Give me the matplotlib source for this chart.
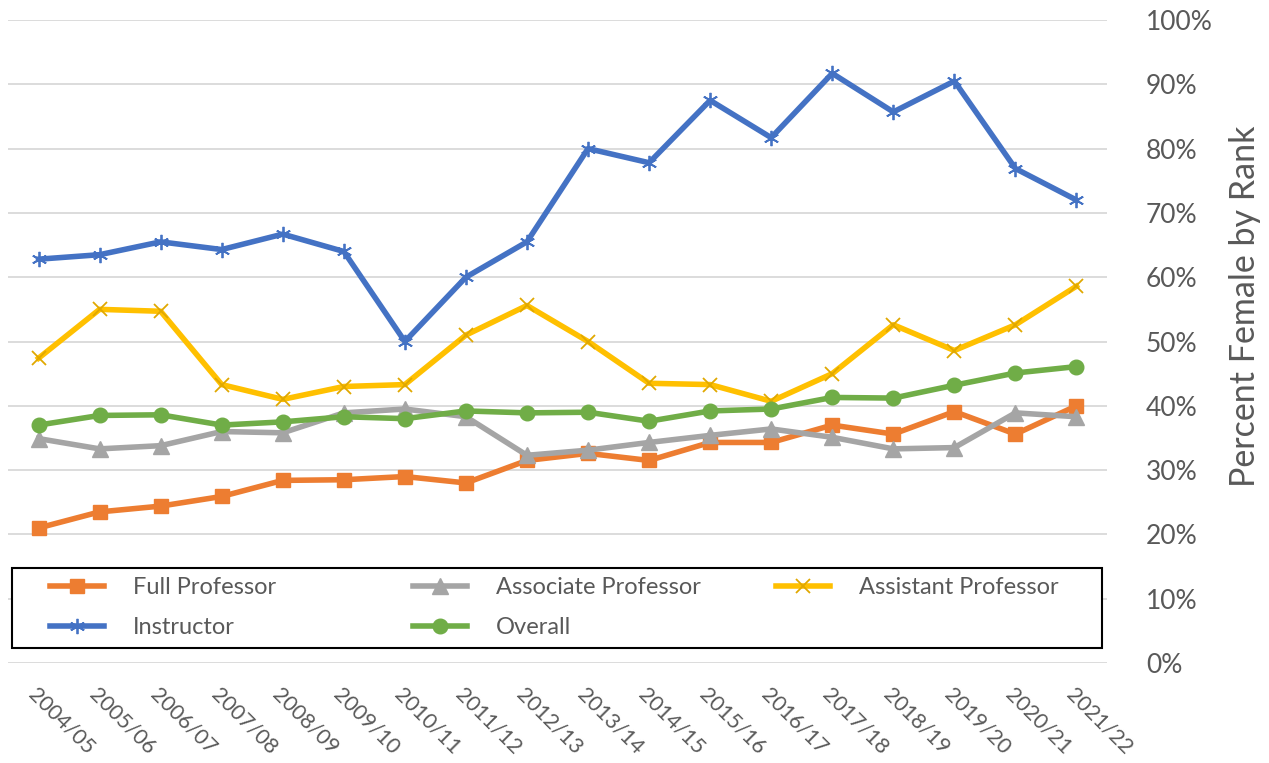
import matplotlib.pyplot as plt
from matplotlib.patches import Rectangle
from matplotlib.ticker import PercentFormatter

plt.rcParams["font.family"] = ["Lato", "DejaVu Sans"]

years = ["2004/05", "2005/06", "2006/07", "2007/08", "2008/09", "2009/10",
         "2010/11", "2011/12", "2012/13", "2013/14", "2014/15", "2015/16",
         "2016/17", "2017/18", "2018/19", "2019/20", "2020/21", "2021/22"]

full_prof = [21.0, 23.5, 24.4, 25.9, 28.4, 28.5, 29.0, 28.0, 31.5, 32.6, 31.5, 34.3,
             34.3, 37.0, 35.6, 39.1, 35.6, 40.0]
assoc_prof = [34.9, 33.3, 33.8, 36.0, 35.8, 38.9, 39.5, 38.3, 32.3, 33.1, 34.3, 35.4,
              36.4, 35.1, 33.3, 33.5, 38.9, 38.3]
asst_prof = [47.4, 55.0, 54.7, 43.3, 41.0, 43.0, 43.3, 51.0, 55.6, 50.0, 43.5, 43.3,
             40.7, 45.0, 52.6, 48.6, 52.6, 58.6]
instructor = [62.8, 63.5, 65.5, 64.3, 66.7, 64.0, 50.0, 60.0, 65.5, 80.0, 77.8, 87.5,
              81.7, 91.7, 85.7, 90.5, 76.9, 72.0]
overall = [37.0, 38.5, 38.6, 37.0, 37.5, 38.3, 38.0, 39.2, 38.9, 39.0, 37.6, 39.2,
           39.5, 41.3, 41.2, 43.2, 45.1, 46.1]

text_col = "#595959"
x = range(len(years))
W, H = 1269, 763

fig = plt.figure(figsize=(12.69, 7.63), dpi=100)
ax = fig.add_axes([8 / W, 100 / H, 1099 / W, 643 / H])

lw = 4
h_full, = ax.plot(x, full_prof, color="#ED7D31", lw=lw, marker="s", ms=10.5, label="Full Professor")
h_assoc, = ax.plot(x, assoc_prof, color="#A5A5A5", lw=lw, marker="^", ms=11, label="Associate Professor")
h_asst, = ax.plot(x, asst_prof, color="#FFC000", lw=lw, marker="x", ms=10, mew=1.3,
                  mec="#E0A800", label="Assistant Professor")
h_inst, = ax.plot(x, instructor, color="#4472C4", lw=lw, marker=(6, 2, 0), ms=11, mew=1.3,
                  label="Instructor")
h_over, = ax.plot(x, overall, color="#70AD47", lw=lw, marker="o", ms=10.5, label="Overall")

ax.set_xlim(-0.5, len(years) - 0.5)
ax.set_ylim(0, 100)
ax.set_yticks(range(0, 101, 10))
ax.yaxis.set_major_formatter(PercentFormatter(decimals=0))
ax.yaxis.tick_right()
ax.yaxis.set_label_position("right")
ax.tick_params(axis="y", length=0, labelsize=19, labelcolor=text_col, pad=28)
ax.grid(axis="y", color="#D9D9D9", lw=1.3)
ax.set_axisbelow(True)
for s in ax.spines.values():
    s.set_visible(False)

ax.set_xticks(list(x))
ax.set_xticklabels(years, rotation=-45, ha="left", va="top", rotation_mode="anchor",
                   fontsize=15.5, color=text_col)
ax.tick_params(axis="x", length=0, pad=15)

ax.set_ylabel("Percent Female by Rank", fontsize=24.5, color=text_col, labelpad=12)
ax.yaxis.label.set_y((663 - 306) / 643)

# legend box with entries laid out on an even grid, like the spreadsheet legend
fig.patches.append(Rectangle((12 / W, 1 - 648 / H), 1090 / W, 80 / H, transform=fig.transFigure,
                             facecolor="white", edgecolor="black", lw=1.5, zorder=3))
entries = [(h_full, 50, 588), (h_assoc, 413, 588), (h_asst, 776, 588),
           (h_inst, 50, 628), (h_over, 413, 628)]
for h, px, py in entries:
    fig.legend(handles=[h], loc="center left", bbox_to_anchor=(px / W, 1 - py / H),
               frameon=False, borderpad=0, borderaxespad=0, fontsize=17,
               labelcolor=text_col, handlelength=2.3, handletextpad=1.2)

fig.savefig("out.png", dpi=100)
